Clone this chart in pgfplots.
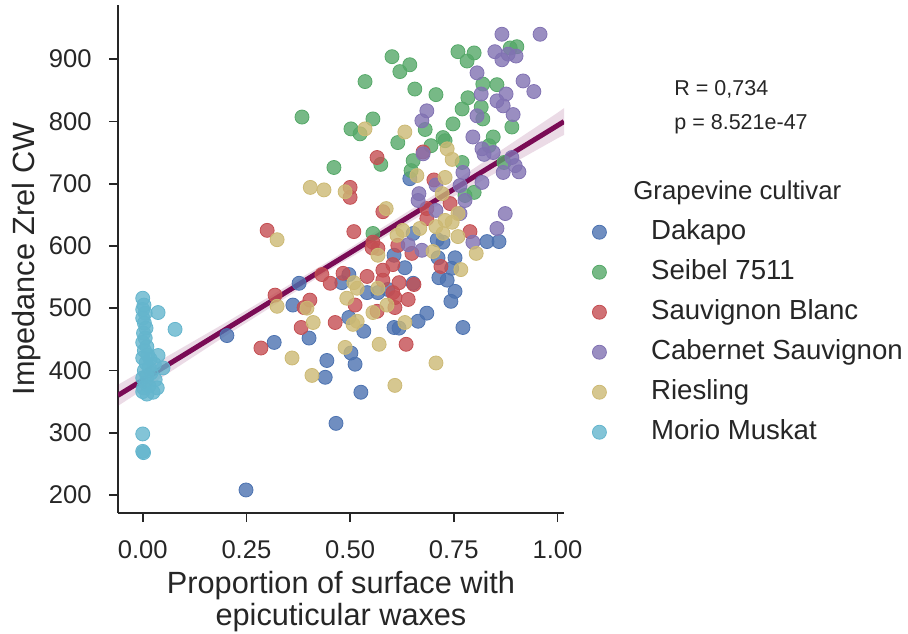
\documentclass[border=0pt]{standalone}
\usepackage{fontspec}
\setmainfont{Liberation Sans}
\usepackage{pgfplots}
\pgfplotsset{compat=1.18}
\usepgfplotslibrary{fillbetween}

\definecolor{textgray}{HTML}{262626}
\definecolor{cDak}{HTML}{4C72B0}
\definecolor{cSei}{HTML}{55A868}
\definecolor{cSau}{HTML}{C44E52}
\definecolor{cCab}{HTML}{8172B2}
\definecolor{cRie}{HTML}{CCB974}
\definecolor{cMor}{HTML}{64B5CD}
\definecolor{regline}{RGB}{122,11,85}

\pgfplotsset{
  scat/.style={only marks, mark=*, mark size=3.5pt, color=#1,
    mark options={draw=none, fill=#1, fill opacity=0.8}},
}

\begin{document}
\begin{tikzpicture}
\begin{axis}[
  at={(59pt,60pt)}, anchor=south west,
  scale only axis, width=223pt, height=254pt,
  xmin=-0.0596, xmax=1.0157, ymin=171, ymax=987,
  axis lines=left,
  axis line style={-, line width=1pt, textgray},
  tick align=outside, major tick length=4.5pt,
  tick style={line width=0.9pt, textgray},
  xtick={0,0.25,0.5,0.75,1},
  xticklabels={0.00,0.25,0.50,0.75,1.00},
  ytick={200,300,400,500,600,700,800,900},
  /pgf/number format/assume math mode=true,
  ticklabel style={font=\fontsize{12.8}{15}\selectfont, text=textgray, inner sep=0pt},
  xticklabel shift=9pt, yticklabel shift=8.5pt,
  xlabel={Proportion of surface with\\epicuticular waxes},
  xlabel style={align=center, font=\fontsize{15.35}{16}\selectfont, text=textgray,
    inner sep=0pt, at={(axis description cs:0.5,0)}, anchor=north, yshift=-28.75pt},
  ylabel={Impedance Zrel CW},
  ylabel style={font=\fontsize{15.35}{16}\selectfont, text=textgray,
    inner sep=0pt, at={(axis description cs:-0.2388,0.5)}, anchor=north},
  legend cell align=left,
  legend image code/.code={\draw[#1] plot coordinates {(0pt,0pt)}; \path[draw=none] (-3.5pt,0pt) -- (25.85pt,0pt);},
  legend style={draw=none, fill=none, inner sep=0pt,
    at={(axis description cs:1.0628,0.5791)}, anchor=north west,
    font=\fontsize{13.8}{16}\selectfont, text=textgray, row sep=7pt,
    nodes={inner sep=0pt, text height=10pt, text depth=3pt}},
]
% Dakapo
\addplot[scat=cDak] coordinates {
(0.203,456) (0.249,208) (0.317,445) (0.362,505) (0.377,540) (0.401,452)
(0.444,416) (0.440,389) (0.497,485) (0.502,428) (0.512,410) (0.526,365)
(0.466,315) (0.533,463) (0.541,525) (0.567,525) (0.591,530) (0.606,469)
(0.606,585) (0.632,565) (0.712,581) (0.753,581) (0.714,549) (0.734,545)
(0.753,527) (0.743,511) (0.772,469) (0.685,492) (0.664,479) (0.618,468)
(0.497,554) (0.480,541) (0.652,540) (0.724,606) (0.830,607) (0.859,607)
(0.644,708) (0.652,620) (0.710,610) (0.745,564)
};
\addlegendentry{Dakapo}
% Seibel 7511
\addplot[scat=cSei] coordinates {
(0.384,807) (0.601,904) (0.620,880) (0.644,891) (0.536,864) (0.656,852)
(0.707,843) (0.760,912) (0.799,910) (0.782,897) (0.886,918) (0.902,920)
(0.555,804) (0.502,788) (0.524,780) (0.615,766) (0.681,787) (0.724,774)
(0.695,761) (0.461,726) (0.574,731) (0.652,737) (0.647,721) (0.820,860)
(0.854,859) (0.784,838) (0.770,820) (0.816,823) (0.820,804) (0.748,796)
(0.890,791) (0.845,775) (0.835,761) (0.770,734) (0.871,734) (0.799,686)
(0.777,681) (0.729,769) (0.555,620)
};
\addlegendentry{Seibel 7511}
% Sauvignon Blanc
\addplot[scat=cSau] coordinates {
(0.300,625) (0.509,623) (0.565,742) (0.500,694) (0.500,678) (0.579,655)
(0.319,521) (0.403,513) (0.389,501) (0.382,469) (0.285,436) (0.464,477)
(0.512,505) (0.483,556) (0.541,551) (0.452,540) (0.432,554) (0.579,561)
(0.603,570) (0.603,525) (0.608,501) (0.553,597) (0.565,495) (0.615,601)
(0.649,588) (0.579,545) (0.618,541) (0.654,538) (0.608,517) (0.640,514)
(0.719,567) (0.635,442) (0.676,751) (0.702,706) (0.555,606) (0.567,596)
(0.685,644) (0.685,660) (0.741,668) (0.789,623)
};
\addlegendentry{Sauvignon Blanc}
% Cabernet Sauvignon
\addplot[scat=cCab] coordinates {
(0.866,940) (0.958,940) (0.849,912) (0.881,908) (0.900,905) (0.866,899)
(0.806,878) (0.917,865) (0.943,848) (0.816,844) (0.876,844) (0.854,833)
(0.869,825) (0.806,809) (0.893,811) (0.796,775) (0.818,756) (0.823,747)
(0.890,742) (0.898,729) (0.907,719) (0.772,718) (0.818,702) (0.845,750)
(0.685,817) (0.673,801) (0.676,748) (0.869,718) (0.707,698) (0.666,684)
(0.777,673) (0.707,657) (0.765,652) (0.874,652) (0.854,628) (0.640,602)
(0.673,593) (0.796,606) (0.765,697) (0.664,673)
};
\addlegendentry{Cabernet Sauvignon}
% Riesling
\addplot[scat=cRie] coordinates {
(0.324,610) (0.404,694) (0.437,690) (0.488,687) (0.587,660) (0.536,788)
(0.632,783) (0.661,713) (0.729,710) (0.734,756) (0.746,739) (0.324,503)
(0.411,477) (0.360,420) (0.408,392) (0.488,437) (0.570,442) (0.608,376)
(0.492,516) (0.509,541) (0.517,532) (0.567,532) (0.555,493) (0.507,474)
(0.517,479) (0.589,505) (0.567,585) (0.396,500) (0.700,591) (0.804,588)
(0.767,562) (0.632,477) (0.707,412) (0.613,617) (0.627,625) (0.722,684)
(0.668,628) (0.707,631) (0.729,641) (0.724,620) (0.760,652) (0.746,638)
(0.760,615)
};
\addlegendentry{Riesling}
% Morio Muskat
\addplot[scat=cMor] coordinates {
(0.000,516) (0.003,505) (0.000,498) (0.006,492) (0.000,484) (0.004,476)
(0.008,468) (0.002,460) (0.006,452) (0.000,445) (0.010,438) (0.004,432)
(0.012,425) (0.000,420) (0.018,418) (0.037,424) (0.008,412) (0.028,410)
(0.049,404) (0.015,404) (0.004,400) (0.020,396) (0.010,391) (0.000,388)
(0.030,385) (0.007,380) (0.015,375) (0.002,372) (0.025,365) (0.010,362)
(0.000,366) (0.035,372) (0.078,466) (0.037,493) (0.000,298) (0.000,270)
(0.002,268)
};
\addlegendentry{Morio Muskat}
% regression band and line
\addplot[name path=up, draw=none, forget plot] coordinates {
(-0.0596,377) (0,399.9) (0.2,476.7) (0.45,576) (0.7,680.7) (1.0,813.9) (1.0157,821.3)};
\addplot[name path=lo, draw=none, forget plot] coordinates {
(-0.0596,343) (0,368.9) (0.2,455.7) (0.45,561) (0.7,660.7) (1.0,772.9) (1.0157,778.3)};
\addplot[regline, fill opacity=0.15, draw=none, forget plot] fill between[of=up and lo];
\addplot[regline, line width=2.5pt, forget plot] coordinates {(-0.0596,360.0) (1.0157,799.8)};
\end{axis}
\node[anchor=base west, inner sep=0pt, text=textgray, font=\fontsize{10.75}{13}\selectfont] at (337pt,268.5pt) {R = 0,734};
\node[anchor=base west, inner sep=0pt, text=textgray, font=\fontsize{10.75}{13}\selectfont] at (337pt,251.5pt) {p = 8.521e-47};
\node[anchor=base west, inner sep=0pt, text=textgray, font=\fontsize{12.9}{15}\selectfont] at (316.5pt,216.75pt) {Grapevine cultivar};
\pgfresetboundingbox
\useasboundingbox (0pt,0pt) rectangle (454pt,316.5pt);
\end{tikzpicture}
\end{document}
